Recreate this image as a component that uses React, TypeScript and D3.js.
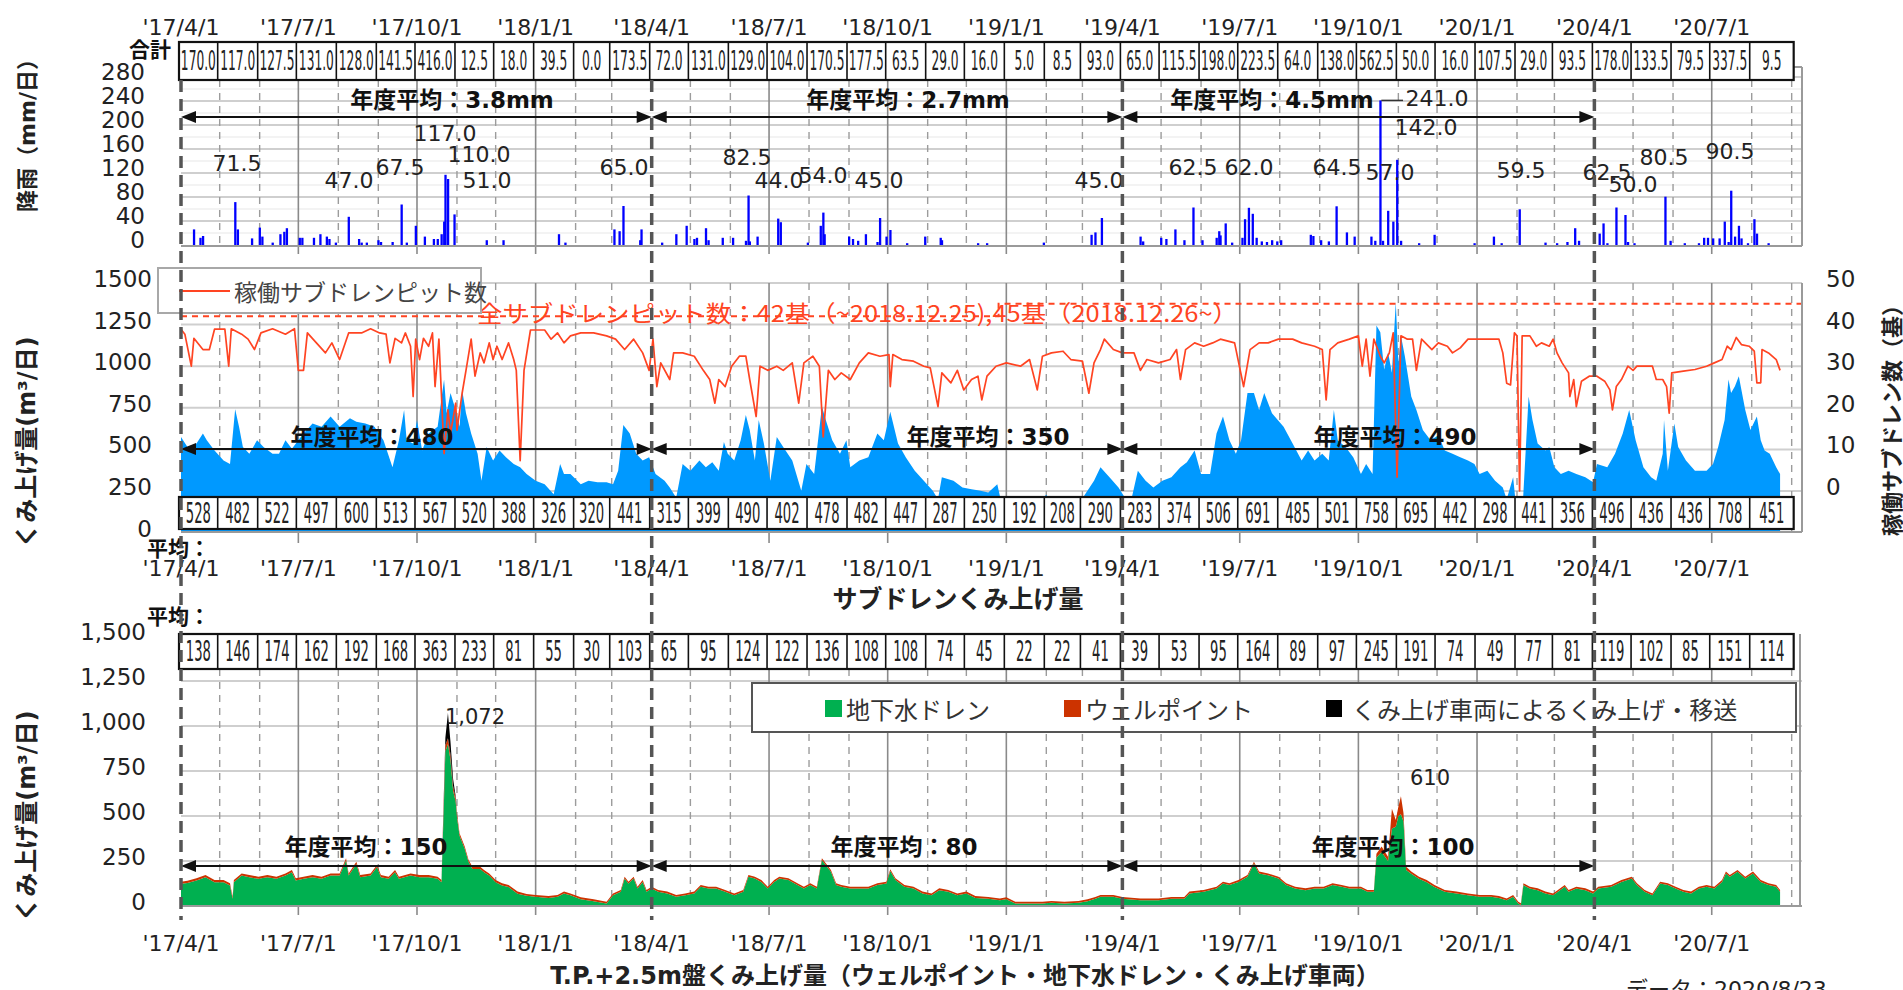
import React from "react";
import * as d3 from "d3";

// ---------------- DATA ----------------
// day offsets are counted from 2017-04-01 (start of FY2017)
const BASE = new Date(2017, 3, 1);
const AXIS_END = new Date(2020, 8, 9);
const TABLE_END = new Date(2020, 8, 1);

const quarterTickLabels = ["'17/4/1", "'17/7/1", "'17/10/1", "'18/1/1", "'18/4/1", "'18/7/1", "'18/10/1", "'19/1/1", "'19/4/1", "'19/7/1", "'19/10/1", "'20/1/1", "'20/4/1", "'20/7/1"];
const fiscalYearStarts = ["2017-04-01", "2018-04-01", "2019-04-01", "2020-04-01"];

const rainFyAvg = ["3.8mm", "2.7mm", "4.5mm"];
const subdrainFyAvg = ["480", "350", "490"];
const tpFyAvg = ["150", "80", "100"];

// monthly totals / averages, Apr 2017 .. Aug 2020
const rainMonthlyTotal = [170.0, 117.0, 127.5, 131.0, 128.0, 141.5, 416.0, 12.5, 18.0, 39.5, 0.0, 173.5,
  72.0, 131.0, 129.0, 104.0, 170.5, 177.5, 63.5, 29.0, 16.0, 5.0, 8.5, 93.0,
  65.0, 115.5, 198.0, 223.5, 64.0, 138.0, 562.5, 50.0, 16.0, 107.5, 29.0, 93.5,
  178.0, 133.5, 79.5, 337.5, 9.5];
const subdrainMonthlyAvg = [528, 482, 522, 497, 600, 513, 567, 520, 388, 326, 320, 441,
  315, 399, 490, 402, 478, 482, 447, 287, 250, 192, 208, 290,
  283, 374, 506, 691, 485, 501, 758, 695, 442, 298, 441, 356,
  496, 436, 436, 708, 451];
const tpMonthlyAvg = [138, 146, 174, 162, 192, 168, 363, 233, 81, 55, 30, 103,
  65, 95, 124, 122, 136, 108, 108, 74, 45, 22, 22, 41,
  39, 53, 95, 164, 89, 97, 245, 191, 74, 49, 77, 81,
  119, 102, 85, 151, 114];

// daily rainfall [day, mm]
const rainDaily: [number, number][] = [
  [10, 26], [15, 12], [17, 15], [42, 71.5], [44, 26], [55, 11], [61, 29], [63, 14], [71, 4], [77, 18], [80, 22], [82, 28],
  [92, 12], [94, 12], [103, 12], [108, 18], [113, 14], [115, 10], [120, 4], [130, 47.0], [138, 10], [140, 4], [144, 4], [153, 8], [155, 5], [164, 5], [171, 67.5], [175, 4], [182, 32],
  [189, 14], [196, 10], [199, 10], [202, 18], [204, 39], [205, 117.0], [207, 110.0], [212, 51.0], [237, 8], [250, 8],
  [293, 18], [298, 4], [336, 26], [340, 23], [343, 65.0], [356, 8], [357, 26],
  [373, 4], [384, 18], [392, 32], [398, 10], [400, 12], [407, 28], [409, 8],
  [420, 12], [428, 12], [438, 7], [440, 82.5], [441, 6], [447, 14], [463, 44.0], [465, 38], [486, 4], [496, 32], [498, 54.0], [499, 18],
  [518, 14], [521, 10], [525, 7], [531, 18], [540, 5], [542, 45.0], [547, 14], [550, 25], [563, 3], [577, 14], [589, 12], [590, 8], [618, 3], [625, 3], [669, 4],
  [706, 17], [709, 21], [714, 45.0],
  [744, 14], [746, 6], [760, 12], [764, 10], [771, 26], [778, 8], [785, 62.5], [792, 8], [803, 12], [805, 23], [806, 16], [810, 36], [815, 4], [823, 12], [825, 43], [828, 62.0], [831, 52], [834, 12],
  [838, 6], [842, 5], [846, 8], [850, 6], [853, 8], [876, 17], [878, 15], [884, 8], [890, 6], [896, 64.5], [904, 21], [910, 14], [923, 14], [926, 7], [930, 241.0], [932, 7], [936, 57.0], [940, 39], [943, 142.0], [946, 7], [960, 3], [972, 17],
  [1003, 3], [1018, 14], [1024, 3], [1038, 59.5], [1058, 4], [1067, 3], [1075, 5], [1081, 28], [1084, 7], [1100, 19], [1103, 36], [1106, 3], [1113, 62.5], [1120, 50.0], [1122, 5], [1127, 3],
  [1151, 80.5], [1155, 7], [1166, 3], [1177, 3], [1181, 12], [1184, 12], [1188, 11], [1193, 11], [1197, 39], [1200, 5], [1202, 90.5], [1205, 14], [1208, 32], [1210, 11], [1215, 3], [1220, 43], [1222, 19], [1231, 3],
];

// daily subdrain pumping volume [day, m3/day]
const subdrainDaily: [number, number][] = [
  [0, 575], [5, 514], [12, 535], [17, 595], [20, 555], [26, 494], [33, 433], [38, 413], [42, 741], [45, 636], [48, 514], [53, 474], [59, 555], [64, 514], [71, 474], [76, 474], [81, 555], [86, 504], [91, 555], [95, 595],
  [102, 656], [109, 636], [116, 697], [123, 636], [131, 687], [136, 666], [143, 656], [150, 636], [157, 555], [164, 393], [169, 555], [173, 737], [175, 555], [180, 535], [183, 677], [187, 494], [192, 595], [199, 636],
  [204, 920], [206, 717], [209, 839], [213, 737], [216, 636], [218, 859], [221, 717], [225, 595], [230, 474], [233, 312], [237, 514], [242, 433], [247, 494], [252, 453], [258, 413], [263, 393], [268, 352], [275, 312],
  [282, 291], [289, 231], [294, 413], [297, 352], [302, 352], [310, 291], [316, 312], [323, 302], [330, 302], [335, 291], [339, 372], [343, 646], [348, 595], [353, 474], [358, 433], [363, 453],
  [368, 352], [375, 312], [379, 271], [384, 210], [389, 413], [395, 372], [402, 433], [407, 393], [412, 423], [417, 372], [421, 545], [424, 474], [429, 433], [434, 555], [438, 707], [441, 616], [445, 433], [448, 677],
  [452, 535], [457, 312], [462, 575], [467, 514], [474, 433], [481, 251], [485, 413], [491, 352], [497, 758], [500, 677], [505, 555], [511, 474], [516, 555], [519, 393], [526, 433], [533, 453], [540, 595], [545, 555],
  [550, 727], [556, 535], [562, 453], [569, 372], [576, 312], [583, 251], [587, 200], [590, 332], [599, 312], [606, 271], [613, 261], [620, 251], [626, 241], [633, 291], [637, 150], [647, 160], [660, 150], [671, 227],
  [675, 160], [685, 180], [696, 170], [708, 312], [713, 393], [720, 332], [727, 271],
  [732, 210], [737, 200], [742, 372], [748, 312], [754, 271], [761, 312], [768, 332], [775, 393], [780, 423], [786, 494], [791, 352], [798, 352], [803, 595], [808, 697], [813, 555], [818, 474], [822, 555], [827, 839],
  [832, 839], [836, 737], [840, 839], [846, 717], [855, 636], [862, 535], [869, 433], [874, 494], [879, 433], [885, 474], [890, 433], [894, 737], [897, 555], [903, 514], [909, 453], [915, 352], [919, 413], [924, 352],
  [927, 1244], [930, 1204], [933, 980], [936, 1082], [939, 960], [942, 1386], [944, 1021], [946, 1183], [949, 1062], [954, 818], [958, 737], [963, 616], [969, 555], [975, 585], [980, 494], [986, 474], [992, 453],
  [998, 433], [1003, 413], [1007, 352], [1013, 372], [1019, 312], [1025, 271], [1028, 200], [1033, 332], [1036, 100], [1040, 100], [1045, 818], [1048, 677], [1052, 535], [1058, 494], [1061, 514], [1065, 393],
  [1070, 352], [1076, 372], [1082, 352], [1089, 332], [1095, 302],
  [1098, 413], [1106, 393], [1112, 474], [1118, 595], [1123, 737], [1128, 555], [1134, 393], [1140, 332], [1144, 312], [1149, 474], [1150, 677], [1153, 372], [1158, 656], [1161, 514], [1167, 433], [1174, 372],
  [1183, 372], [1188, 413], [1192, 514], [1197, 677], [1200, 920], [1202, 839], [1205, 879], [1208, 940], [1213, 737], [1217, 616], [1222, 697], [1225, 555], [1228, 494], [1232, 474], [1237, 393], [1240, 352],
];

// operating subdrain pits [day, count]
const operatingPits: [number, number][] = [
  [0, 38.9], [3, 37.7], [8, 30], [10, 36.7], [17, 34], [22, 34], [26, 38.9], [34, 38.9], [37, 30], [39, 39], [47, 37.7], [52, 36.5], [57, 34], [62, 38], [71, 39], [81, 37.7], [88, 39], [91, 29], [95, 29], [98, 38],
  [105, 35.6], [112, 33.2], [117, 35.6], [123, 31.6], [130, 38], [140, 38], [147, 39], [154, 38], [159, 37.7], [162, 30.8], [166, 36.7], [171, 35.6], [174, 38], [178, 34.8], [180, 22.7], [182, 36.5], [185, 31.6],
  [188, 36.7], [192, 34.8], [195, 38], [197, 25.1], [200, 36.5], [204, 9], [207, 19.5], [209, 13.8], [213, 21.1], [214, 14.6], [218, 23.5], [221, 29], [225, 36.5], [228, 27.6], [232, 33.2], [235, 30.8], [239, 35.6],
  [242, 31.6], [245, 34.8], [249, 31.6], [254, 35.6], [258, 31.6], [260, 29], [263, 7.3], [266, 29], [271, 38.7], [282, 38.7], [287, 36.5], [292, 38], [297, 35.6], [302, 37.3], [310, 38], [320, 38], [330, 37.3],
  [337, 36.5], [344, 34], [351, 36.5], [358, 33.2], [363, 29],
  [366, 36.5], [369, 25.1], [372, 30.8], [379, 26.8], [382, 33.2], [389, 33.2], [398, 32.4], [405, 29], [410, 26.8], [414, 21.1], [417, 26.8], [422, 25.1], [427, 30], [433, 32.4], [438, 32.4], [441, 26.8], [446, 17.9],
  [449, 30], [455, 29], [462, 30], [467, 29], [474, 30.8], [479, 21.1], [483, 30.8], [490, 32.4], [495, 30], [498, 13], [502, 29], [507, 26.8], [512, 28.4], [519, 26.8], [526, 30.8], [533, 33.2], [542, 32.4],
  [549, 32.8], [550, 25.1], [552, 32.8], [559, 31.6], [568, 31.2], [576, 30], [581, 29.6], [587, 20.3], [590, 28.4], [597, 26], [602, 29], [607, 24.3], [613, 26.8], [618, 27.6], [621, 21.9], [625, 27.6], [632, 30],
  [640, 30.8], [651, 30], [658, 31.6], [664, 24.3], [668, 32.4], [675, 33.2], [684, 33.6], [690, 31.6], [699, 31.2], [704, 23.5], [708, 30.8], [713, 34], [716, 36.5], [723, 34], [730, 33.2],
  [739, 33.2], [744, 29], [749, 31.6], [758, 30.8], [767, 31.6], [772, 34], [775, 26.8], [779, 34], [786, 35.6], [793, 34.8], [800, 35.6], [806, 36.5], [817, 35.6], [824, 25.1], [829, 34], [836, 35.6], [843, 35.6],
  [851, 36.5], [862, 36.5], [869, 35.6], [879, 34.8], [885, 34], [888, 21.9], [891, 34], [897, 35.6], [906, 36.5], [913, 37.3], [916, 30], [919, 36.5], [922, 27.6], [925, 36.5], [930, 32.4], [933, 30.8], [937, 33.2],
  [940, 38], [943, 3.3], [946, 37.3], [951, 36.5], [955, 36.5], [958, 29], [962, 36.5], [970, 34], [975, 35.6], [982, 34.8], [986, 33.2], [992, 34.4], [998, 36.5], [1007, 36.5], [1016, 36.5], [1022, 36.5], [1025, 33.2],
  [1028, 25.9], [1031, 25.5], [1034, 38], [1036, 37.3], [1038, 0], [1040, 37.3], [1046, 37.3], [1051, 34.8], [1055, 35.6], [1061, 34.8], [1064, 36.5], [1067, 33.2], [1071, 30.8], [1076, 28.4], [1077, 22.7],
  [1080, 26.8], [1082, 20.3], [1086, 26.4], [1092, 27.6], [1098, 27.6],
  [1104, 26.4], [1108, 24.3], [1110, 19.5], [1113, 25.1], [1117, 26.8], [1122, 30], [1126, 29], [1129, 30], [1141, 30], [1144, 26.8], [1149, 26.8], [1152, 25.1], [1154, 18.7], [1156, 28.4], [1165, 28.8], [1174, 29.2],
  [1183, 30], [1189, 30.8], [1195, 31.6], [1199, 34.8], [1202, 34], [1206, 36.9], [1210, 35.2], [1216, 34.8], [1220, 33.6], [1222, 26], [1225, 26], [1226, 34], [1231, 33.2], [1237, 31.6], [1240, 29],
];

// total subdrain pits: 42 until 2018-12-25, 45 from 2018-12-26
const totalPits: [string, number][] = [["2017-04-01", 42], ["2018-12-25", 42], ["2018-12-26", 45], ["2020-09-09", 45]];

// T.P.+2.5m pumping: [day, groundwater drain, well point, pumping truck]
const tpDaily: [number, number, number, number][] = [
  [0, 123, 12, 0], [5, 128, 12, 0], [12, 142, 12, 0], [19, 160, 12, 0], [26, 132, 12, 0], [33, 132, 12, 0], [38, 114, 12, 0], [40, 40, 12, 0], [41, 132, 12, 0], [47, 169, 12, 0], [53, 160, 12, 0], [60, 151, 12, 0],
  [67, 160, 12, 0], [74, 151, 12, 0], [81, 169, 12, 0], [86, 188, 12, 0], [89, 142, 12, 0], [95, 151, 12, 0], [102, 160, 12, 0], [109, 151, 12, 0], [116, 169, 12, 0], [123, 169, 12, 0], [128, 253, 12, 0],
  [130, 169, 12, 0], [136, 234, 12, 0], [139, 160, 12, 0], [147, 169, 12, 0], [152, 216, 12, 0], [155, 160, 12, 0], [161, 151, 12, 0], [166, 188, 12, 0], [169, 151, 12, 0], [178, 169, 12, 0], [185, 160, 12, 0],
  [192, 160, 12, 0], [199, 151, 12, 0], [202, 132, 12, 0], [204, 600, 40, 30], [205, 860, 35, 40], [207, 900, 32, 140], [209, 810, 30, 70], [211, 640, 25, 40], [213, 580, 20, 10], [214, 495, 20, 0], [216, 390, 14, 0],
  [220, 318, 12, 0], [223, 244, 12, 0], [226, 206, 12, 0], [232, 206, 12, 0], [235, 188, 12, 0], [239, 169, 12, 0], [244, 132, 12, 0], [249, 114, 12, 0], [254, 105, 12, 0], [261, 68, 12, 0], [268, 57, 10, 0],
  [275, 51, 10, 0], [285, 45, 10, 0], [292, 51, 10, 0], [297, 70, 10, 0], [302, 60, 10, 0], [310, 38, 10, 0], [320, 27, 10, 0], [330, 14, 10, 0], [335, 60, 10, 0], [341, 79, 10, 0], [344, 153, 10, 0], [347, 125, 10, 0],
  [351, 153, 10, 0], [354, 97, 10, 0], [358, 134, 10, 0], [361, 79, 10, 0], [365, 97, 10, 0],
  [370, 79, 10, 0], [377, 70, 10, 0], [384, 51, 10, 0], [391, 60, 10, 0], [398, 70, 10, 0], [403, 107, 10, 0], [409, 97, 10, 0], [415, 97, 10, 0], [422, 79, 10, 0], [429, 60, 10, 0], [436, 79, 10, 0], [440, 162, 10, 0],
  [445, 153, 10, 0], [450, 134, 10, 0], [455, 97, 10, 0], [460, 134, 10, 0], [464, 153, 10, 0], [471, 144, 10, 0], [478, 116, 10, 0], [483, 97, 10, 0], [488, 116, 10, 0], [493, 97, 10, 0], [497, 255, 10, 0],
  [500, 227, 10, 0], [504, 190, 10, 0], [508, 116, 10, 0], [512, 107, 10, 0], [519, 97, 10, 0], [526, 97, 10, 0], [533, 97, 10, 0], [540, 116, 10, 0], [547, 125, 10, 0], [550, 194, 10, 0], [554, 144, 10, 0],
  [561, 107, 10, 0], [568, 97, 10, 0], [575, 70, 10, 0], [582, 60, 10, 0], [588, 88, 10, 0], [595, 79, 10, 0], [602, 60, 10, 0], [609, 70, 10, 0], [616, 45, 10, 0], [626, 40, 10, 0], [635, 32, 10, 0], [640, 38, 10, 0],
  [647, 14, 10, 0], [657, 14, 10, 0], [668, 14, 10, 0], [675, 18, 10, 0], [685, 14, 10, 0], [696, 18, 10, 0], [703, 27, 10, 0], [709, 40, 10, 0], [713, 51, 10, 0], [723, 51, 10, 0], [730, 40, 10, 0],
  [744, 32, 10, 0], [758, 32, 10, 0], [768, 40, 10, 0], [778, 40, 10, 0], [782, 70, 10, 0], [793, 79, 10, 0], [803, 97, 10, 0], [808, 125, 10, 0], [813, 116, 10, 0], [820, 134, 10, 0], [827, 162, 10, 0],
  [832, 236, 10, 0], [836, 181, 10, 0], [843, 171, 10, 0], [851, 153, 10, 0], [857, 116, 10, 0], [864, 97, 10, 0], [872, 88, 10, 0], [879, 97, 10, 0], [886, 97, 10, 0], [893, 116, 10, 0], [900, 107, 10, 0],
  [906, 97, 10, 0], [915, 97, 10, 0], [920, 79, 10, 0], [925, 79, 10, 0], [927, 270, 20, 0], [931, 300, 30, 0], [936, 250, 24, 0], [939, 430, 110, 0], [942, 440, 38, 0], [944, 500, 52, 0], [946, 510, 100, 0],
  [948, 470, 45, 0], [950, 200, 18, 0], [954, 179, 12, 0], [960, 151, 12, 0], [966, 132, 12, 0], [972, 105, 12, 0], [980, 79, 10, 0], [989, 70, 10, 0], [998, 60, 10, 0], [1007, 51, 10, 0], [1016, 51, 10, 0],
  [1022, 45, 10, 0], [1028, 32, 10, 0], [1033, 51, 10, 0], [1037, 14, 10, 0], [1039, 5, 10, 0], [1041, 116, 10, 0], [1046, 97, 10, 0], [1052, 88, 10, 0], [1058, 70, 10, 0], [1064, 60, 10, 0], [1073, 107, 10, 0],
  [1076, 79, 10, 0], [1082, 97, 10, 0], [1089, 88, 10, 0], [1095, 70, 10, 0],
  [1099, 97, 10, 0], [1109, 107, 10, 0], [1117, 134, 10, 0], [1125, 153, 10, 0], [1129, 116, 10, 0], [1135, 79, 10, 0], [1141, 60, 10, 0], [1147, 125, 10, 0], [1153, 116, 10, 0], [1159, 97, 10, 0], [1165, 79, 10, 0],
  [1171, 70, 10, 0], [1177, 97, 10, 0], [1183, 107, 10, 0], [1189, 97, 10, 0], [1195, 134, 10, 0], [1198, 181, 10, 0], [1201, 162, 10, 0], [1207, 190, 10, 0], [1213, 153, 10, 0], [1219, 181, 10, 0],
  [1225, 134, 10, 0], [1231, 116, 10, 0], [1237, 107, 10, 0], [1240, 79, 10, 0],
];

const tpPeaks: [number, string][] = [[207, "1,072"], [946, "610"]];

// rainfall value labels: [day of bar, label centre x, label centre y]
const rainLabelPos: [number, number, number][] = [
  [42, 237, 163], [130, 349, 180], [171, 400, 167], [205, 445, 133], [207, 479, 154], [212, 487, 180], [343, 624, 167],
  [440, 747, 157], [463, 779, 180], [498, 823, 175], [542, 879, 180], [714, 1099, 180], [785, 1193, 167], [828, 1249, 167],
  [896, 1337, 167], [930, 1437, 98], [943, 1426, 127], [936, 1390, 172], [1038, 1521, 170], [1113, 1607, 172], [1120, 1633, 184],
  [1151, 1664, 157], [1202, 1730, 151],
];

// ---------------- LAYOUT ----------------
const W = 1903, H = 990;
const X0 = 181, X1 = 1802;
const LAT = "'DejaVu Sans', 'Noto Sans CJK JP', sans-serif";
const JP = "'Noto Sans CJK JP', sans-serif";
const TXT = "#222";
const ORANGE = "#ff4422";
const BLUE = "#0099ff";
const GREEN = "#00b050";
const WELL = "#cc3300";

const x = d3.scaleTime().domain([BASE, AXIS_END]).range([X0, X1]);
const dayDate = (d: number) => d3.timeDay.offset(BASE, d);
const dx = (d: number) => x(dayDate(d));
const parseISO = d3.timeParse("%Y-%m-%d");
const fyDates = fiscalYearStarts.map((s) => parseISO(s) as Date);
const tickDate = (s: string) => {
  const [yy, m] = s.replace("'", "").split("/").map(Number);
  return new Date(2000 + yy, m - 1, 1);
};

const rainY = d3.scaleLinear().domain([0, 280]).range([245, 77]);
const subY = d3.scaleLinear().domain([0, 1500]).range([532.6, 283]);
const pitY = d3.scaleLinear().domain([0, 50]).range([491, 283]);
const tpY = d3.scaleLinear().domain([0, 1500]).range([906, 636]);

const months = d3.timeMonth.range(BASE, TABLE_END);
const gridMonths = d3.timeMonth.range(d3.timeMonth.offset(BASE, 1), AXIS_END).filter((m) => m.getMonth() !== 3);

function VLines({ top, bottom, tick }: { top: number; bottom: number; tick: number }) {
  return (
    <g>
      {gridMonths.map((m, i) => {
        const q = m.getMonth() % 3 === 0;
        const xx = x(m);
        return q ? (
          <line key={i} x1={xx} x2={xx} y1={top} y2={bottom + tick} stroke="#8a8a8a" strokeWidth={1.6} />
        ) : (
          <line key={i} x1={xx} x2={xx} y1={top} y2={bottom} stroke="#9c9c9c" strokeWidth={1.4} strokeDasharray="7,6" />
        );
      })}
    </g>
  );
}

function MonthTable({ values, top, bottom, fmt, fs }: { values: number[]; top: number; bottom: number; fmt: (v: number) => string; fs: number }) {
  const bounds = months.map((m) => x(m) - 2).concat([x(TABLE_END) + 2]);
  const cy = (top + bottom) / 2;
  return (
    <g>
      <rect x={bounds[0]} y={top} width={bounds[bounds.length - 1] - bounds[0]} height={bottom - top} fill="#fff" stroke="#111" strokeWidth={2.2} />
      {bounds.slice(1, -1).map((b, i) => (
        <line key={i} x1={b} x2={b} y1={top} y2={bottom} stroke="#111" strokeWidth={1.6} />
      ))}
      {values.map((v, i) => (
        <text key={i} transform={`translate(${(bounds[i] + bounds[i + 1]) / 2},${cy}) scale(0.47,1)`} textAnchor="middle" dominantBaseline="central" fontFamily={LAT} fontSize={fs} fill={TXT}>
          {fmt(v)}
        </text>
      ))}
    </g>
  );
}

function FyArrows({ y, labels, centers, ty }: { y: number; labels: string[]; centers: number[]; ty: number }) {
  return (
    <g>
      {labels.map((lab, i) => {
        const a = x(fyDates[i]);
        const b = x(fyDates[i + 1]);
        return (
          <g key={i}>
            <line x1={a + 4} x2={b - 4} y1={y} y2={y} stroke="#111" strokeWidth={2} />
            <path d={`M${a},${y} L${a + 15},${y - 6} L${a + 15},${y + 6} Z`} fill="#111" />
            <path d={`M${b},${y} L${b - 15},${y - 6} L${b - 15},${y + 6} Z`} fill="#111" />
            <text x={centers[i]} y={ty} textAnchor="middle" dominantBaseline="central" fontFamily={LAT} fontWeight={700} fontSize={23} fill="#111">
              {"年度平均：" + lab}
            </text>
          </g>
        );
      })}
    </g>
  );
}

function DateLabels({ cy }: { cy: number }) {
  return (
    <g>
      {quarterTickLabels.map((t, i) => (
        <text key={i} x={x(tickDate(t))} y={cy} textAnchor="middle" dominantBaseline="central" fontFamily={LAT} fontSize={22} fill={TXT}>
          {t}
        </text>
      ))}
    </g>
  );
}

export default function App() {
  // ---- panel 2 shapes
  const subArea = d3.area<[number, number]>().x((d) => dx(d[0])).y0(subY(0)).y1((d) => subY(d[1]))(subdrainDaily) || "";
  const pitLine = d3.line<[number, number]>().x((d) => dx(d[0])).y((d) => pitY(d[1]))(operatingPits) || "";
  const totalLine = d3.line<[string, number]>().x((d) => x(parseISO(d[0]) as Date)).y((d) => pitY(d[1])).curve(d3.curveStepAfter)(totalPits) || "";

  // ---- panel 3 stack
  const rows = tpDaily.map(([d, g, w, t]) => ({ d, g, w, t }));
  const stack = d3.stack<any>().keys(["g", "w", "t"])(rows);
  const areaGen = d3.area<any>().x((p) => dx(p.data.d)).y0((p) => tpY(p[0])).y1((p) => tpY(p[1]));
  const stackColors = [GREEN, WELL, "#000"];

  const rainLookup = new Map(rainDaily.map(([d, v]) => [d, v]));

  return (
    <svg width={W} height={H} viewBox={`0 0 ${W} ${H}`} style={{ position: "absolute", left: 0, top: 0, background: "#fff" }}>
      <rect x={0} y={0} width={W} height={H} fill="#fff" />

      {/* ================= PANEL 1 : rainfall ================= */}
      <g>
        {d3.range(20, 281, 20).map((v) => (
          <line key={v} x1={X0} x2={X1} y1={rainY(v)} y2={rainY(v)} stroke={v % 40 === 0 ? "#cfcfcf" : "#e8e8e8"} strokeWidth={v % 40 === 0 ? 2 : 1.2} />
        ))}
        <VLines top={80} bottom={246} tick={8} />
        {rainDaily.map(([d, v], i) => (
          <rect key={i} x={dx(d) - 1} y={rainY(v)} width={2.3} height={rainY(0) - rainY(v)} fill="#0000ff" />
        ))}
        <line x1={X0} x2={X1} y1={246} y2={246} stroke="#9a9a9a" strokeWidth={2} />
        <line x1={X1} x2={X1} y1={67} y2={246} stroke="#9a9a9a" strokeWidth={2} />
        <line x1={x(TABLE_END)} x2={X1} y1={67} y2={67} stroke="#9a9a9a" strokeWidth={2} />
        {d3.range(0, 281, 40).map((v) => (
          <text key={v} x={145} y={rainY(v) - 5} textAnchor="end" dominantBaseline="central" fontFamily={LAT} fontSize={23} fill={TXT}>
            {v}
          </text>
        ))}
        <MonthTable values={rainMonthlyTotal} top={42} bottom={80} fmt={(v) => v.toFixed(1)} fs={26} />
        <text x={150} y={48} textAnchor="middle" dominantBaseline="central" fontFamily={JP} fontWeight={700} fontSize={21} fill="#111">合計</text>
        <DateLabels cy={27} />
        <text transform={`translate(27,130) rotate(-90)`} textAnchor="middle" dominantBaseline="central" fontFamily={LAT} fontWeight={700} fontSize={22} fill={TXT}>
          降雨（mm/日）
        </text>
        <line x1={dx(930) + 1} x2={1403} y1={rainY(241)} y2={rainY(241)} stroke="#333" strokeWidth={1.5} />
        {rainLabelPos.map(([d, cx, cy], i) => (
          <text key={i} x={cx} y={cy} textAnchor="middle" dominantBaseline="central" fontFamily={LAT} fontSize={22} fill={TXT}>
            {(rainLookup.get(d) as number).toFixed(1)}
          </text>
        ))}
        <FyArrows y={117} labels={rainFyAvg} centers={[452, 908, 1272]} ty={100} />
      </g>

      {/* ================= PANEL 2 : subdrain ================= */}
      <g>
        {d3.range(250, 1501, 250).map((v) => (
          <line key={v} x1={X0} x2={X1} y1={subY(v)} y2={subY(v)} stroke="#cfcfcf" strokeWidth={2} />
        ))}
        <VLines top={283} bottom={532} tick={11} />
        <path d={subArea} fill={BLUE} />
        <path d={totalLine} fill="none" stroke={ORANGE} strokeWidth={2} strokeDasharray="6,5" />
        <text x={477} y={312} textLength={761} lengthAdjust="spacingAndGlyphs" dominantBaseline="central" fontFamily={JP} fontSize={23} fill={ORANGE}>
          全サブドレンピット数：42基（~2018.12.25),45基（2018.12.26~）
        </text>
        <path d={pitLine} fill="none" stroke={ORANGE} strokeWidth={1.7} strokeLinejoin="round" />
        <line x1={X0} x2={X1} y1={532} y2={532} stroke="#9a9a9a" strokeWidth={2} />
        <line x1={X1} x2={X1} y1={283} y2={532} stroke="#9a9a9a" strokeWidth={2} />
        <MonthTable values={subdrainMonthlyAvg} top={497} bottom={529} fmt={(v) => String(v)} fs={28} />
        {d3.range(0, 1501, 250).map((v) => (
          <text key={v} x={152} y={subY(v) - 4} textAnchor="end" dominantBaseline="central" fontFamily={LAT} fontSize={23} fill={TXT}>
            {v}
          </text>
        ))}
        {d3.range(0, 51, 10).map((v) => (
          <text key={v} x={1826} y={pitY(v) - 4} textAnchor="start" dominantBaseline="central" fontFamily={LAT} fontSize={23} fill={TXT}>
            {v}
          </text>
        ))}
        <rect x={158} y={268} width={323} height={45} fill="#fff" stroke="#a8a8a8" strokeWidth={2} />
        <line x1={179} x2={230} y1={291} y2={291} stroke={ORANGE} strokeWidth={2} />
        <text x={234} y={291} dominantBaseline="central" fontFamily={JP} fontSize={23} fill="#444">稼働サブドレンピット数</text>
        <text x={147} y={547} dominantBaseline="central" fontFamily={JP} fontWeight={700} fontSize={21} fill="#111">平均：</text>
        <DateLabels cy={568} />
        <text x={958} y={597} textAnchor="middle" dominantBaseline="central" fontFamily={JP} fontWeight={700} fontSize={25} fill={TXT}>サブドレンくみ上げ量</text>
        <text transform={`translate(27,442) rotate(-90)`} textAnchor="middle" dominantBaseline="central" fontFamily={LAT} fontWeight={700} fontSize={24} fill={TXT}>
          くみ上げ量(m³/日)
        </text>
        <text transform={`translate(1890,415) rotate(-90)`} textAnchor="middle" dominantBaseline="central" fontFamily={JP} fontWeight={700} fontSize={22} fill={TXT}>
          稼働サブドレン数（基）
        </text>
        <FyArrows y={449} labels={subdrainFyAvg} centers={[372, 988, 1395]} ty={437} />
      </g>

      {/* ================= PANEL 3 : T.P.+2.5m ================= */}
      <g>
        {d3.range(250, 1251, 250).map((v) => (
          <line key={v} x1={X0} x2={X1} y1={tpY(v)} y2={tpY(v)} stroke="#cfcfcf" strokeWidth={2} />
        ))}
        <VLines top={669} bottom={906} tick={9} />
        {stack.map((s, i) => (
          <path key={i} d={areaGen(s as any) || ""} fill={stackColors[i]} />
        ))}
        <line x1={X0} x2={X1} y1={906} y2={906} stroke="#9a9a9a" strokeWidth={2} />
        <line x1={X1 - 2} x2={X1 - 2} y1={634} y2={906} stroke="#9a9a9a" strokeWidth={2} />
        <MonthTable values={tpMonthlyAvg} top={634} bottom={669} fmt={(v) => String(v)} fs={28} />
        {d3.range(0, 1501, 250).map((v) => (
          <text key={v} x={146} y={tpY(v) - 4} textAnchor="end" dominantBaseline="central" fontFamily={LAT} fontSize={23} fill={TXT}>
            {d3.format(",")(v)}
          </text>
        ))}
        <rect x={752} y={683} width={1044} height={49} fill="#fff" stroke="#555" strokeWidth={2} />
        <rect x={825} y={700} width={17} height={17} fill={GREEN} />
        <text x={846} y={708} dominantBaseline="central" fontFamily={JP} fontSize={24} fill="#333">地下水ドレン</text>
        <rect x={1064} y={700} width={17} height={17} fill={WELL} />
        <text x={1085} y={708} dominantBaseline="central" fontFamily={JP} fontSize={24} fill="#333">ウェルポイント</text>
        <rect x={1326} y={700} width={16} height={17} fill="#000" />
        <text x={1352} y={708} dominantBaseline="central" fontFamily={JP} fontSize={24} fill="#333">くみ上げ車両によるくみ上げ・移送</text>
        {tpPeaks.map(([d, lab], i) => (
          <text key={i} x={i === 0 ? 475 : 1430} y={i === 0 ? 717 : 778} textAnchor="middle" dominantBaseline="central" fontFamily={LAT} fontSize={21} fill={TXT}>
            {lab}
          </text>
        ))}
        <text x={147} y={615} dominantBaseline="central" fontFamily={JP} fontWeight={700} fontSize={21} fill="#111">平均：</text>
        <DateLabels cy={943} />
        <text x={965} y={976} textAnchor="middle" dominantBaseline="central" fontFamily={LAT} fontWeight={700} fontSize={24} fill={TXT}>
          T.P.+2.5m盤くみ上げ量（ウェルポイント・地下水ドレン・くみ上げ車両）
        </text>
        <text transform={`translate(27,816) rotate(-90)`} textAnchor="middle" dominantBaseline="central" fontFamily={LAT} fontWeight={700} fontSize={24} fill={TXT}>
          くみ上げ量(m³/日)
        </text>
        <text x={1626} y={997} fontFamily={LAT} fontSize={22} fill={TXT}>データ：2020/8/23</text>
        <FyArrows y={866} labels={tpFyAvg} centers={[366, 904, 1393]} ty={847} />
      </g>

      {/* fiscal-year separators */}
      {fyDates.map((d, i) => (
        <line key={i} x1={x(d)} x2={x(d)} y1={80} y2={920} stroke="#555" strokeWidth={3.5} strokeDasharray="12,7" />
      ))}
    </svg>
  );
}
